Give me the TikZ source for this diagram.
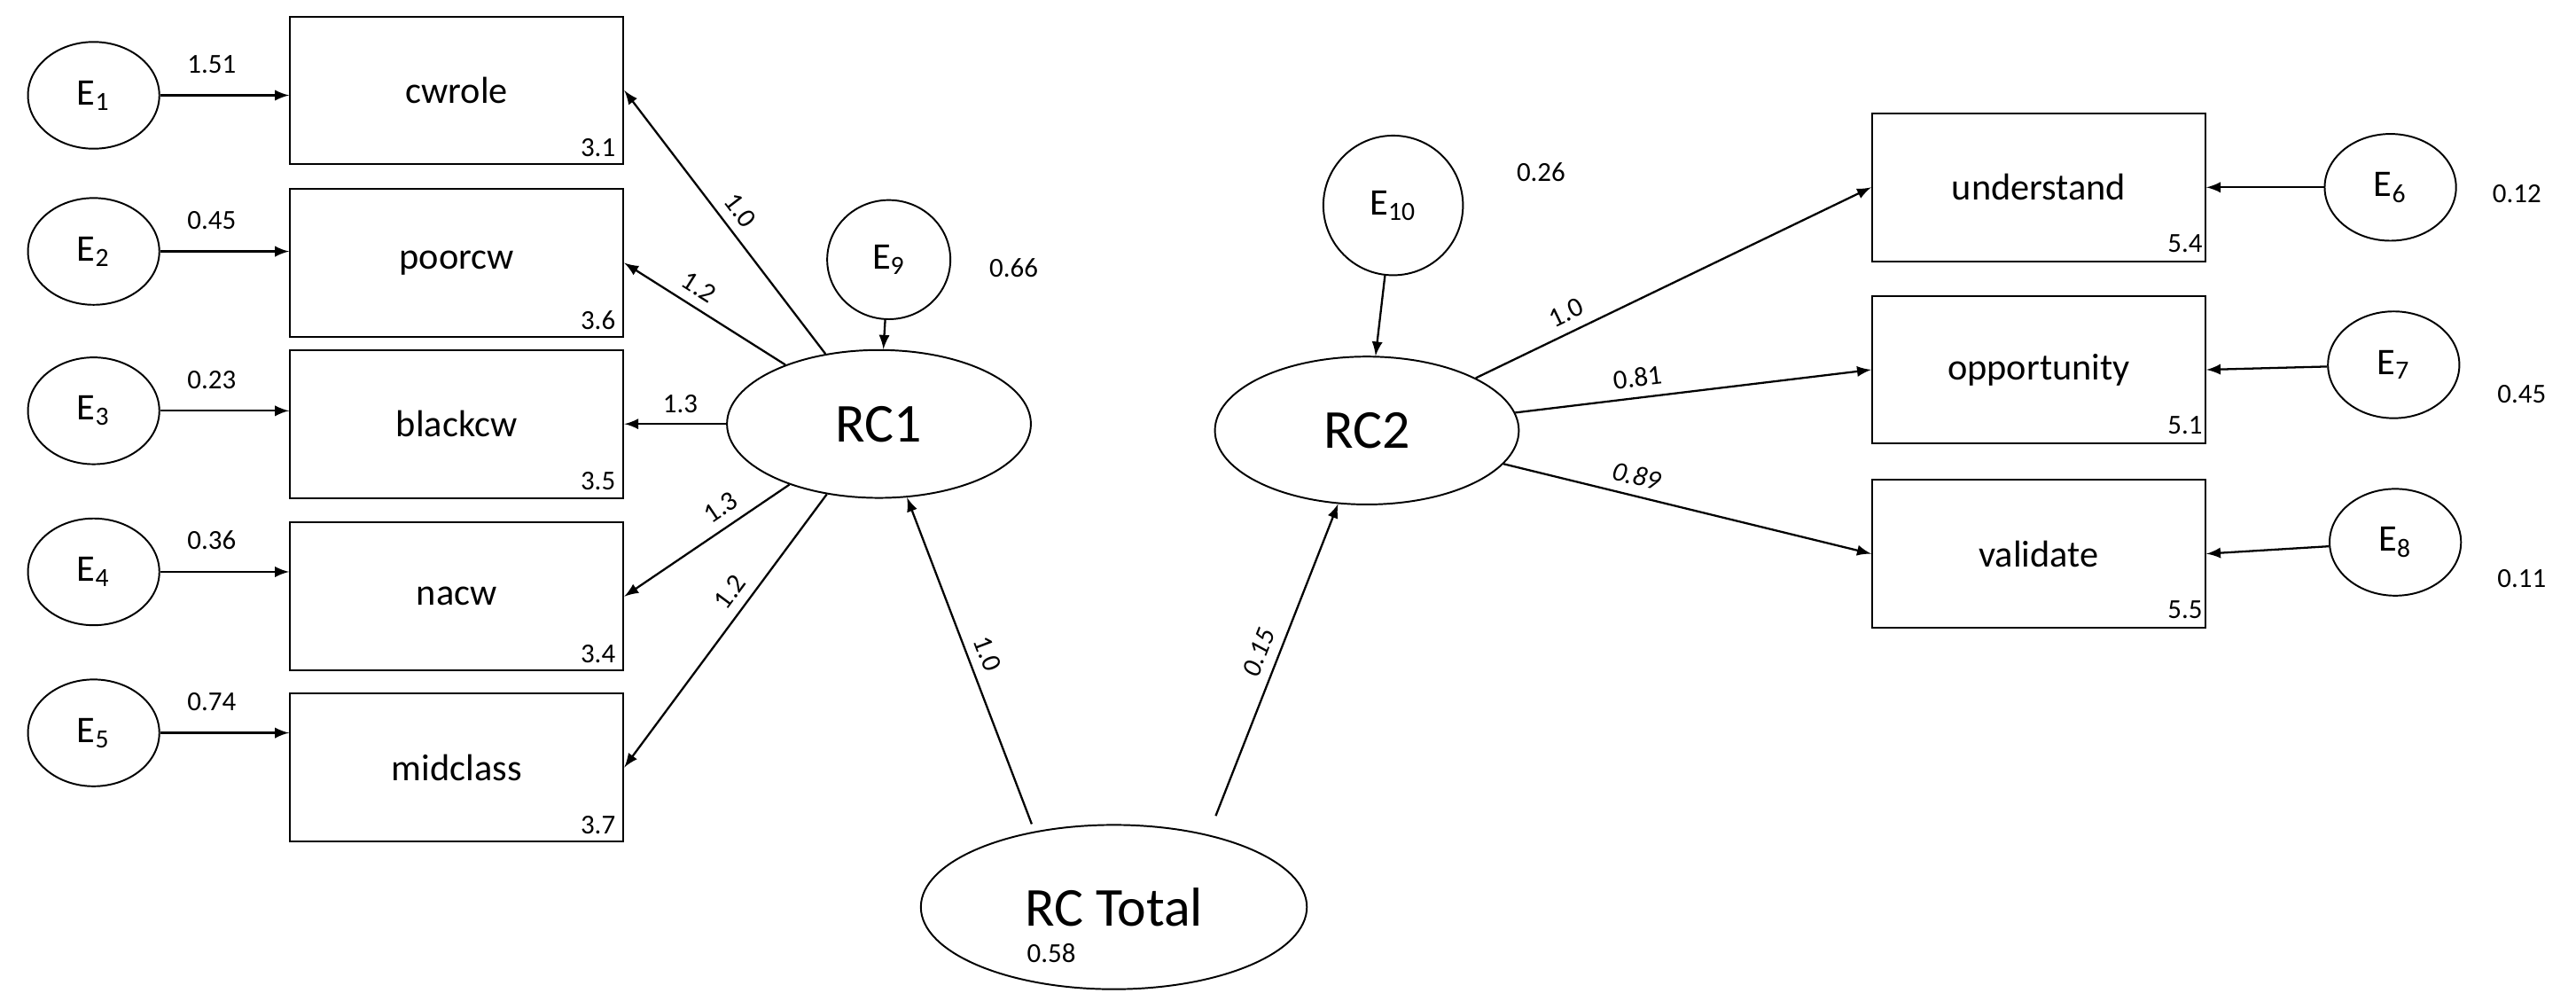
\documentclass[tikz,border=0pt]{standalone}
\usepackage{fontspec}
\setmainfont{Carlito}
\usetikzlibrary{shapes,arrows,positioning,calc}

\begin{document}
\begin{tikzpicture}[
    x=0.02cm, y=-0.02cm,
    line width=0.6pt,
    item/.style={
        rectangle,
        draw,
        minimum width=4.06cm,
        minimum height=1.8cm,
        font=\fontsize{13}{15}\selectfont
    },
    err/.style={
        ellipse,
        draw,
        minimum width=1.6cm,
        minimum height=1.3cm,
        inner sep=0pt,
        font=\fontsize{13}{15}\selectfont
    },
    factor/.style={
        ellipse,
        draw,
        minimum width=3.7cm,
        minimum height=1.8cm,
        font=\fontsize{19}{21}\selectfont
    },
    num/.style={font=\fontsize{9.5}{11}\selectfont},
    link/.style={-latex, line width=0.7pt}
]
    \useasboundingbox (0,0) rectangle (1568,609);

    % Indicators of RC1
    \node[item] (cwrole) at (278,55) {cwrole};
    \node[item] (poorcw) at (278,160) {poorcw};
    \node[item] (blackcw) at (278,258) {blackcw};
    \node[item] (nacw) at (278,363) {nacw};
    \node[item] (midclass) at (278,467) {midclass};

    \node[num] at (364,90) {3.1};
    \node[num] at (364,195) {3.6};
    \node[num] at (364,293) {3.5};
    \node[num] at (364,398) {3.4};
    \node[num] at (364,502) {3.7};

    % Errors of RC1 indicators
    \node[err] (e1) at (57,58) {E\textsubscript{1}};
    \node[err] (e2) at (57,153) {E\textsubscript{2}};
    \node[err] (e3) at (57,250) {E\textsubscript{3}};
    \node[err] (e4) at (57,348) {E\textsubscript{4}};
    \node[err] (e5) at (57,446) {E\textsubscript{5}};

    \draw[link] (e1.east) -- (cwrole.west |- e1.east) node[num, pos=0.4, above=4pt] {1.51};
    \draw[link] (e2.east) -- (poorcw.west |- e2.east) node[num, pos=0.4, above=4pt] {0.45};
    \draw[link] (e3.east) -- (blackcw.west |- e3.east) node[num, pos=0.4, above=4pt] {0.23};
    \draw[link] (e4.east) -- (nacw.west |- e4.east) node[num, pos=0.4, above=4pt] {0.36};
    \draw[link] (e5.east) -- (midclass.west |- e5.east) node[num, pos=0.4, above=4pt] {0.74};

    % RC1
    \node[factor] (rc1) at (535,258) {RC1};
    \node[err, minimum width=1.5cm, minimum height=1.45cm] (e9) at (541,158) {E\textsubscript{9}};
    \node[num] at (617,163) {0.66};
    \draw[link] (e9) -- (rc1);

    \draw[link] (rc1) -- (cwrole.east) node[num, midway, sloped, above] {1.0};
    \draw[link] (rc1) -- (poorcw.east) node[num, pos=0.6, sloped, above] {1.2};
    \draw[link] (rc1) -- (blackcw.east) node[num, pos=0.45, above] {1.3};
    \draw[link] (rc1) -- (nacw.east) node[num, pos=0.35, sloped, above] {1.3};
    \draw[link] (rc1) -- (midclass.east) node[num, pos=0.4, sloped, above] {1.2};

    % RC Total
    \node[factor, minimum width=4.7cm, minimum height=2cm] (rct) at (678,552) {RC Total};
    \node[num] at (640,580) {0.58};

    % RC2
    \node[factor] (rc2) at (832,262) {RC2};
    \node[err, minimum width=1.7cm, minimum height=1.7cm] (e10) at (848,125) {E\textsubscript{10}};
    \node[num] at (938,105) {0.26};
    \draw[link] (e10) -- (rc2);

    \draw[link] ($(rct.north)+(-50,0)$) -- (rc1) node[num, midway, sloped, above] {1.0};
    \draw[link] ($(rct.north)+(62,-5)$) -- (rc2) node[num, midway, sloped, above] {\itshape 0.15};

    % Indicators of RC2
    \node[item] (understand) at (1241,114) {understand};
    \node[item] (opportunity) at (1241,225) {opportunity};
    \node[item] (validate) at (1241,337) {validate};

    \node[num] at (1330,148) {5.4};
    \node[num] at (1330,259) {5.1};
    \node[num] at (1330,371) {5.5};

    \draw[link] (rc2) -- (understand.west) node[num, pos=0.25, sloped, above] {1.0};
    \draw[link] (rc2) -- (opportunity.west) node[num, pos=0.35, sloped, above] {0.81};
    \draw[link] (rc2) -- (validate.west) node[num, pos=0.35, sloped, above] {\itshape 0.89};

    % Errors of RC2 indicators
    \node[err] (e6) at (1455,114) {E\textsubscript{6}};
    \node[err] (e7) at (1457,222) {E\textsubscript{7}};
    \node[err] (e8) at (1458,330) {E\textsubscript{8}};

    \node[num] at (1532,118) {0.12};
    \node[num] at (1535,240) {0.45};
    \node[num] at (1535,352) {0.11};

    \draw[link] (e6) -- (understand.east);
    \draw[link] (e7) -- (opportunity.east);
    \draw[link] (e8) -- (validate.east);
\end{tikzpicture}
\end{document}
